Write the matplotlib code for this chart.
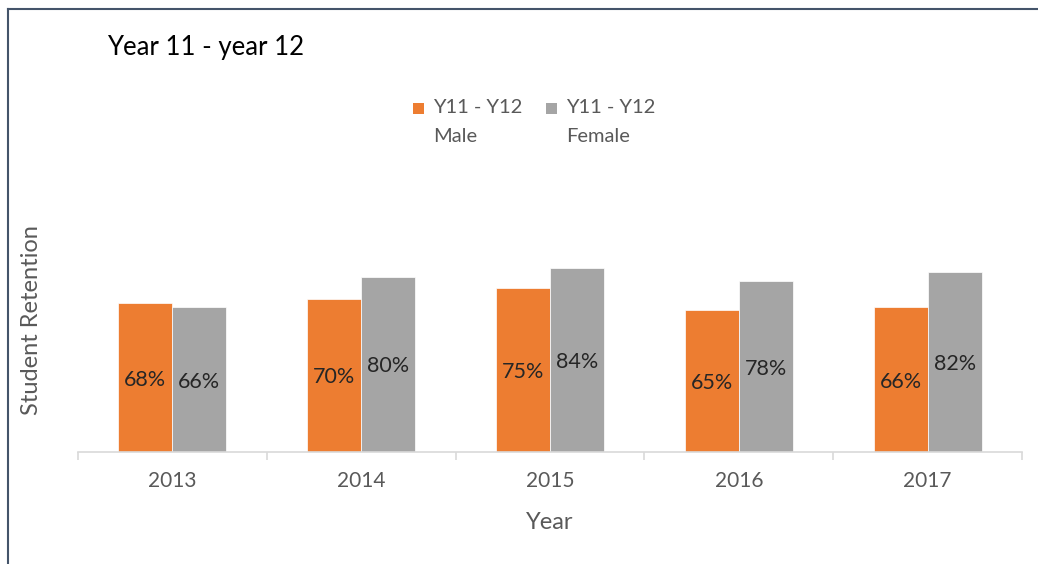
import matplotlib
matplotlib.use("Agg")
import matplotlib.pyplot as plt
import numpy as np
from matplotlib.patches import Rectangle
from matplotlib.lines import Line2D

years = ["2013", "2014", "2015", "2016", "2017"]
male = [0.68, 0.70, 0.75, 0.65, 0.66]
female = [0.66, 0.80, 0.84, 0.78, 0.82]
series_names = [("Y11 - Y12", "Male"), ("Y11 - Y12", "Female")]
title = "Year 11 - year 12"

plt.rcParams['font.family'] = ['Lato', 'DejaVu Sans']
ORANGE = "#ED7D31"
GREY = "#A5A5A5"
TXT = "#595959"

W, H = 1038, 564
fig = plt.figure(figsize=(W/100, H/100), dpi=100)
ax = fig.add_axes([78/W, 1-452/H, (1022-78)/W, (452-233)/H])

x = np.arange(len(years))
bw = 0.286
b1 = ax.bar(x - bw/2, male, bw, color=ORANGE, edgecolor="white", linewidth=0.5)
b2 = ax.bar(x + bw/2, female, bw, color=GREY, edgecolor="white", linewidth=0.5)
for bars, vals in ((b1, male), (b2, female)):
    for r, v in zip(bars, vals):
        ax.text(r.get_x() + r.get_width()/2, v/2, f"{round(v*100)}%",
                ha="center", va="center_baseline", fontsize=15.5, color="#262626")

ax.set_xlim(-0.5, len(years) - 0.5)
ax.set_ylim(0, 1.0)
ax.set_yticks([])
for s in ("top", "right", "left"):
    ax.spines[s].set_visible(False)
ax.spines["bottom"].set_color("#D9D9D9")
ax.spines["bottom"].set_linewidth(1.2)
ax.set_xticks(x)
ax.set_xticklabels(years, fontsize=15, color=TXT)
ax.tick_params(axis="x", which="major", length=0, pad=14)
ax.set_xticks(np.arange(-0.5, len(years)), minor=True)
ax.tick_params(axis="x", which="minor", length=6, color="#D9D9D9", width=1.2)
ax.set_xlabel("Year", fontsize=17, color=TXT, labelpad=15)

fig.text(32/W, 1-320/H, "Student Retention", rotation=90, fontsize=17, color=TXT,
         ha="center", va="center")

fig.text(107/W, 1-47/H, title, fontsize=18.5, color="black", ha="left", va="center")

# legend (manual)
leg_items = [(413, ORANGE, series_names[0]), (546, GREY, series_names[1])]
for lx, col, (l1, l2) in leg_items:
    fig.add_artist(Rectangle((lx/W, 1-114/H), 11/W, 11/H, transform=fig.transFigure,
                             facecolor=col, edgecolor="none"))
    fig.text((lx + 20)/W, 1-108/H, l1, fontsize=14.5, color=TXT, ha="left", va="center")
    fig.text((lx + 20)/W, 1-137/H, l2, fontsize=14.5, color=TXT, ha="left", va="center")

# partial frame
fig.add_artist(Line2D([8/W, 8/W], [0, 1-9/H], transform=fig.transFigure, color="#44546A", lw=1.5))
fig.add_artist(Line2D([8/W, 1], [1-9/H, 1-9/H], transform=fig.transFigure, color="#44546A", lw=1.5))

fig.savefig("out.png", dpi=100)
